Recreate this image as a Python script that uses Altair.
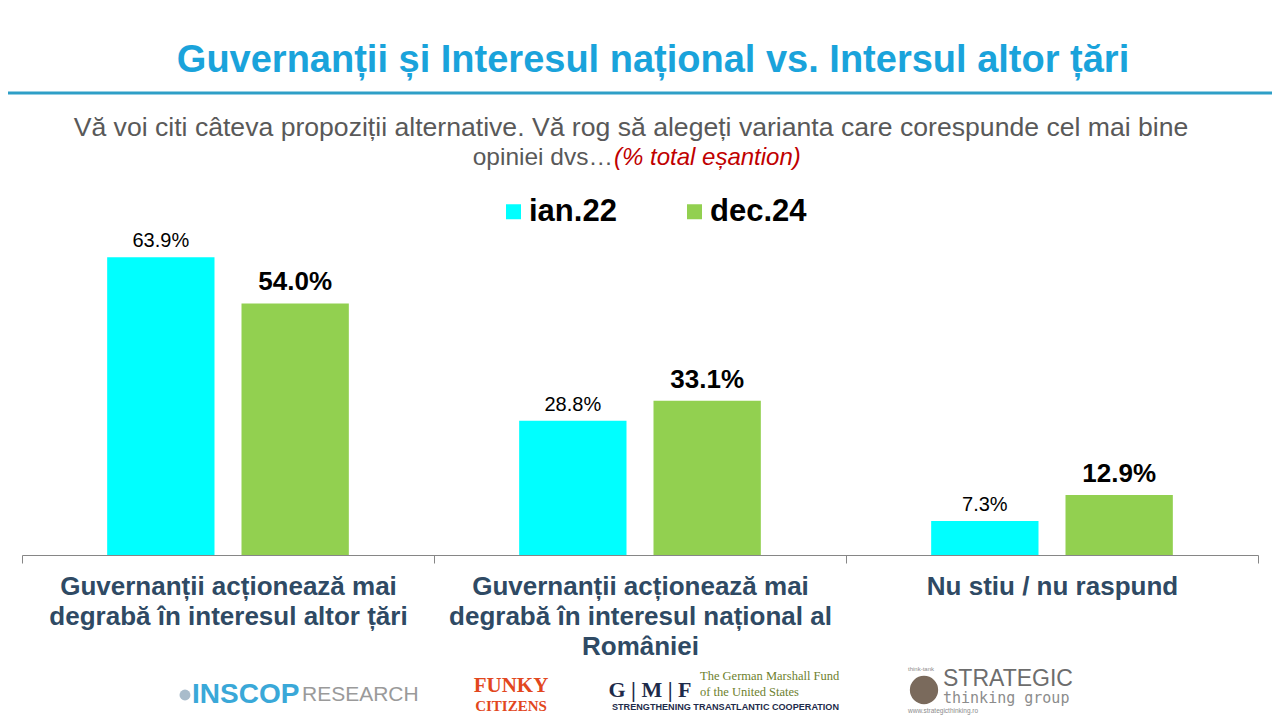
import altair as alt
import pandas as pd

# ---------------- data ----------------
categories = [
    "Guvernanții acționează mai\ndegrabă în interesul altor țări",
    "Guvernanții acționează mai\ndegrabă în interesul național al\nRomâniei",
    "Nu stiu / nu raspund",
]
series = ["ian.22", "dec.24"]
values_ian22 = [63.9, 28.8, 7.3]
values_dec24 = [54.0, 33.1, 12.9]
colors = ["#00FFFF", "#92D050"]

title_text = "Guvernanții și Interesul național vs. Intersul altor țări"
subtitle_line1 = "Vă voi citi câteva propoziții alternative. Vă rog să alegeți varianta care corespunde cel mai bine"
subtitle_line2 = "opiniei dvs…"
subtitle_note = "(% total eșantion)"

rows = []
for i, c in enumerate(categories):
    for s, vals in zip(series, [values_ian22, values_dec24]):
        rows.append({"cat": c, "series": s, "value": vals[i], "label": f"{vals[i]:.1f}%"})
df = pd.DataFrame(rows)

FONT = "Liberation Sans, Arial, sans-serif"
SERIF = "Liberation Serif, Times New Roman, serif"

x_enc = alt.X(
    "cat:N",
    sort=categories,
    scale=alt.Scale(paddingInner=0, paddingOuter=0),
    axis=alt.Axis(
        title=None,
        labelAngle=0,
        labelExpr="split(datum.label, '\\n')",
        labelFont=FONT,
        labelFontSize=26,
        labelFontWeight="bold",
        labelColor="#2F4A64",
        labelLineHeight=30,
        labelPadding=10,
        labelBaseline="top",
        labelLimit=500,
        labelFlush=False,
        labelOverlap=False,
        tickBand="extent",
        ticks=True,
        tickSize=8,
        tickColor="#868686",
        domainColor="#868686",
        domainWidth=1,
        grid=False,
    ),
)
xoff_enc = alt.XOffset("series:N", sort=series, scale=alt.Scale(paddingInner=0.201, paddingOuter=0.634))
y_enc = alt.Y("value:Q", scale=alt.Scale(domain=[0, 117.4], nice=False, zero=True), axis=None)

base = alt.Chart(df)

bars = base.mark_bar().encode(
    x=x_enc,
    xOffset=xoff_enc,
    y=y_enc,
    color=alt.Color(
        "series:N",
        sort=series,
        scale=alt.Scale(domain=series, range=colors),
        legend=alt.Legend(
            title=None,
            orient="none",
            legendX=476,
            legendY=188,
            direction="horizontal",
            symbolType="square",
            symbolSize=225,
            symbolStrokeWidth=0,
            symbolOpacity=1,
            labelFont=FONT,
            labelFontSize=31,
            labelFontWeight="bold",
            labelColor="#000000",
            labelOffset=0,
            columnPadding=62,
            padding=0,
        ),
    ),
)

lab_ian = base.transform_filter(alt.datum.series == series[0]).mark_text(
    font=FONT, fontSize=20, color="#000000", baseline="alphabetic", dy=-10
).encode(x=x_enc, xOffset=xoff_enc, y=y_enc, text="label:N")

lab_dec = base.transform_filter(alt.datum.series == series[1]).mark_text(
    font=FONT, fontSize=26, fontWeight="bold", color="#000000", baseline="alphabetic", dy=-13
).encode(x=x_enc, xOffset=xoff_enc, y=y_enc, text="label:N")


def txt(text, x, y, **kw):
    return alt.Chart(pd.DataFrame({"t": [text]})).mark_text(**kw).encode(
        text="t:N", x=alt.value(x), y=alt.value(y)
    )


one = pd.DataFrame({"v": [0]})

title = txt(title_text, 631, 53, font=FONT, fontSize=38, fontWeight="bold", color="#1AA3DB",
            align="center", baseline="middle")
rule = alt.Chart(one).mark_rule(color="#2E9FC7", strokeWidth=3).encode(
    x=alt.value(-22), x2=alt.value(1258), y=alt.value(85)
)
sub1 = txt(subtitle_line1, 609, 120, font=FONT, fontSize=26.6, color="#595959", align="center", baseline="middle")
sub2 = txt(subtitle_line2, 591, 150, font=FONT, fontSize=24.5, color="#595959", align="right", baseline="middle")
sub3 = txt(subtitle_note, 592, 150, font=FONT, fontSize=24, fontStyle="italic", color="#C00000",
           align="left", baseline="middle")

# ---- logo strip (text approximations) ----
inscop_dot = alt.Chart(one).mark_point(filled=True, shape="circle", size=120, color="#A9BCCB", opacity=1).encode(
    x=alt.value(163), y=alt.value(687)
)
inscop1 = txt("INSCOP", 170, 687, font=FONT, fontSize=28, fontWeight="bold", color="#3AA8D8", align="left", baseline="middle")
inscop2 = txt("RESEARCH", 280, 687, font=FONT, fontSize=21, color="#9A9A9A", align="left", baseline="middle")
funky1 = txt("FUNKY", 489, 678, font=SERIF, fontSize=21, fontWeight="bold", color="#E2471D", align="center", baseline="middle")
funky2 = txt("CITIZENS", 489, 698, font=SERIF, fontSize=15, fontWeight="bold", color="#E2471D", align="center", baseline="middle")
gmf1 = txt("G | M | F", 628, 682, font=SERIF, fontSize=22, fontWeight="bold", color="#1E2B4A", align="center", baseline="middle")
gmf2 = txt("The German Marshall Fund", 678, 668, font=SERIF, fontSize=12.5, color="#6E7F2E", align="left", baseline="middle")
gmf3 = txt("of the United States", 678, 684, font=SERIF, fontSize=12.5, color="#6E7F2E", align="left", baseline="middle")
gmf4 = txt("STRENGTHENING TRANSATLANTIC COOPERATION", 590, 699, font=FONT, fontSize=9.1, fontWeight="bold",
           color="#1E2B4A", align="left", baseline="middle")
stg_dot = alt.Chart(one).mark_point(filled=True, shape="circle", size=800, color="#7A6A5C", opacity=1).encode(
    x=alt.value(902), y=alt.value(682)
)
stg0 = txt("think-tank", 886, 661, font=FONT, fontSize=6, color="#8C8C8C", align="left", baseline="middle")
stg1 = txt("STRATEGIC", 921, 671, font=FONT, fontSize=23, color="#6D6D6D", align="left", baseline="middle")
stg2 = txt("thinking group", 921, 690, font="DejaVu Sans Mono, monospace", fontSize=15, color="#8C8C8C",
           align="left", baseline="middle")
stg3 = txt("www.strategicthinking.ro", 886, 703, font=FONT, fontSize=6.5, color="#8C8C8C", align="left", baseline="middle")

chart = alt.layer(
    bars, lab_ian, lab_dec, title, rule, sub1, sub2, sub3,
    inscop_dot, inscop1, inscop2, funky1, funky2, gmf1, gmf2, gmf3, gmf4,
    stg_dot, stg0, stg1, stg2, stg3,
).properties(
    width=1236,
    height=547,
    autosize=alt.AutoSizeParams(type="none"),
    padding={"left": 14, "top": 0, "right": 14, "bottom": 162},
    background="#FFFFFF",
).configure_view(stroke=None)

chart.save("out.html", embed_options={"renderer": "svg", "actions": False})
